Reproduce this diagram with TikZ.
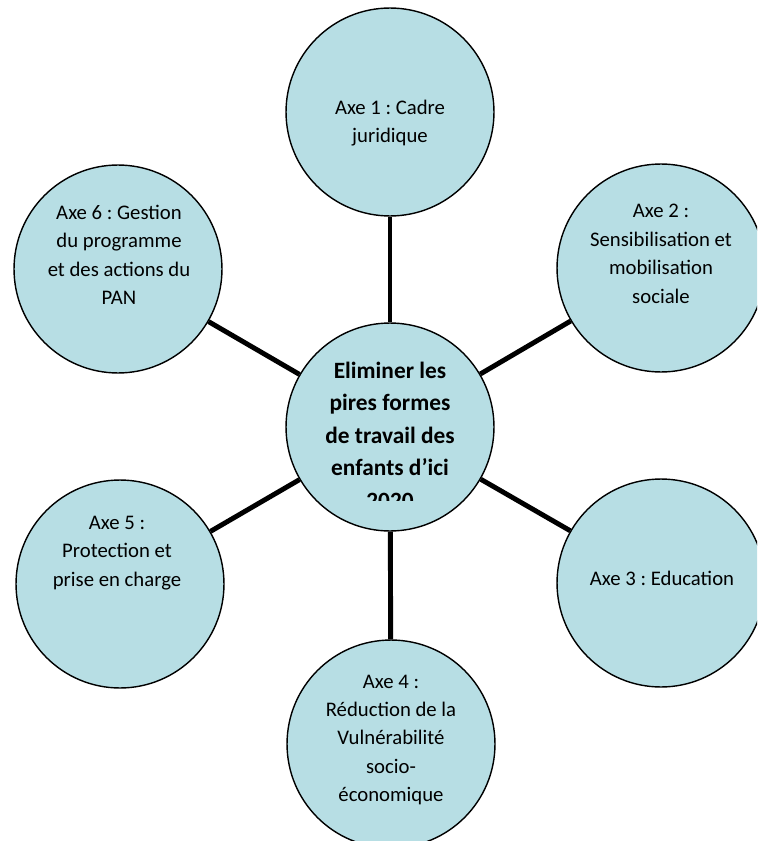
\documentclass[tikz,border=0pt]{standalone}
\usepackage{fontspec}
\setmainfont{Carlito}
\usetikzlibrary{positioning}
\definecolor{axefill}{RGB}{183,222,228}
\frenchspacing

\begin{document}
\begin{tikzpicture}[
    x=0.02cm,y=-0.02cm,
    axe/.style={circle,draw,line width=0.8pt,fill=axefill,minimum size=4.16cm,inner sep=0pt},
    axetext/.style={align=center,inner sep=0pt,font=\fontsize{11.8}{16.2}\selectfont},
    goaltext/.style={align=center,inner sep=0pt,font=\fontsize{13.3}{18.5}\selectfont\bfseries},
    spoke/.style={line width=2.8pt},
  ]
\clip (0,0) rectangle (757,841);

\node (goal) [axe] at (390,427) {};
\node (axe 1) [axe] at (390,112) {};
\node (axe 2) [axe] at (661,268) {};
\node (axe 3) [axe] at (661,583) {};
\node (axe 4) [axe] at (391,744) {};
\node (axe 5) [axe] at (120,584) {};
\node (axe 6) [axe] at (118,269) {};

\draw [spoke] (goal) -- (axe 1);
\draw [spoke] (goal) -- (axe 2);
\draw [spoke] (goal) -- (axe 3);
\draw [spoke] (goal) -- (axe 4);
\draw [spoke] (goal) -- (axe 5);
\draw [spoke] (goal) -- (axe 6);

\node (axe 1 text) [axetext] at (390,123) {Axe 1 : Cadre\\juridique};
\node (axe 2 text) [axetext] at (661,254) {Axe 2 :\\Sensibilisation et\\mobilisation\\sociale};
\node (axe 3 text) [axetext] at (662,578) {Axe 3 : Education};
\node (axe 4 text) [axetext] at (391,740) {Axe 4 :\\Réduction de la\\Vulnérabilité\\socio-\\économique};
\node (axe 5 text) [axetext] at (117,553) {Axe 5 :\\Protection et\\prise en charge};
\node (axe 6 text) [axetext] at (119,255) {Axe 6 : Gestion\\du programme\\et des actions du\\PAN};

\begin{scope}
  \clip (280,330) rectangle (500,500);
  \node (goal text) [goaltext] at (390,435) {Eliminer les\\pires formes\\de travail des\\enfants d’ici\\2020};
\end{scope}
\end{tikzpicture}
\end{document}
